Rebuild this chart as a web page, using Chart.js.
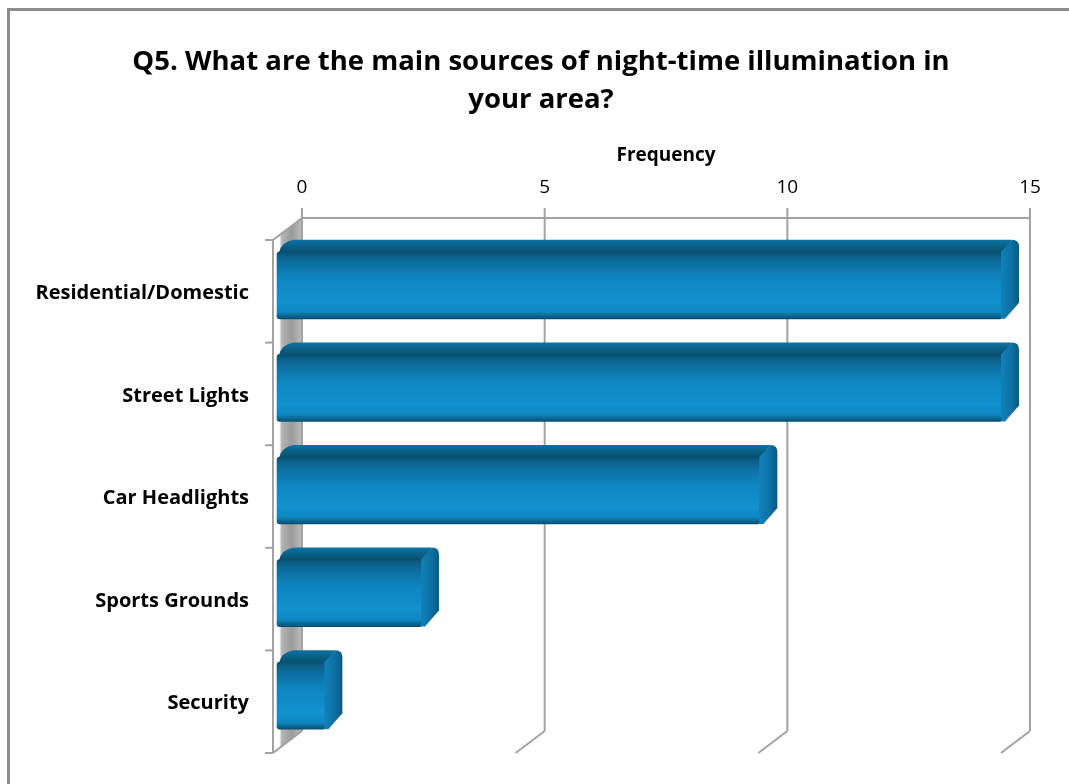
<!DOCTYPE html>
<html>
<head>
<meta charset="utf-8">
<title>Q5 night-time illumination</title>
<script src="https://cdn.jsdelivr.net/npm/chart.js@4/dist/chart.umd.min.js"></script>
<style>
  html, body { margin: 0; padding: 0; background: #ffffff; overflow: hidden; }
  #wrap { position: relative; width: 1069px; height: 784px; }
  #wrap canvas { position: absolute; left: 0; top: 0; }
  #frame {
    position: absolute; left: 7px; top: 8px; width: 1120px; height: 840px;
    border: 3px solid #8c8c8c; box-sizing: border-box; pointer-events: none;
  }
</style>
</head>
<body>
<div id="wrap">
  <canvas id="chart" width="1069" height="784"></canvas>
  <div id="frame"></div>
</div>
<script>
// ---- data ----
const categories = ['Residential/Domestic', 'Street Lights', 'Car Headlights', 'Sports Grounds', 'Security'];
const frequencies = [15, 15, 10, 3, 1];
const frequencyTicks = [0, 5, 10, 15];
const titleLines = ['Q5. What are the main sources of night-time illumination in', 'your area?'];
const axisTitle = 'Frequency';

// ---- look of the 3-D box ----
const FONT = '"Open Sans", Lato, "DejaVu Sans", sans-serif';
const GRID = '#a2a2a2';
const WALL_DX = 29;      // back wall -> front edge, horizontal shift
const WALL_DY = 22;      // back wall -> front edge, vertical shift
const FRONT_DROP = 6;    // front edge of the floor sits a little below the bar bands
const BAR_DX = 17;       // bar depth, horizontal
const BAR_DY = 12;       // bar depth, vertical
const BAR_FACE = 67;     // bar front face thickness
const BAR_MIN = 0.517;   // bar scale is the front plane of the box
const BAR_MAX = 15.579;

function strokeLine(ctx, x1, y1, x2, y2) {
  ctx.beginPath();
  ctx.moveTo(x1, y1);
  ctx.lineTo(x2, y2);
  ctx.stroke();
}

// walls, gridlines and the front category axis of the 3-D box
const box3d = {
  id: 'box3d',
  beforeDatasetsDraw(chart) {
    const { ctx, chartArea: a, scales } = chart;
    const xs = scales.x;
    const frontTop = a.top + FRONT_DROP;
    const frontBottom = a.bottom + FRONT_DROP;
    const backTop = frontTop - WALL_DY;
    const backBottom = frontBottom - WALL_DY;
    const x0 = xs.getPixelForValue(frequencyTicks[0]);
    const xEnd = xs.getPixelForValue(frequencyTicks[frequencyTicks.length - 1]);
    const frontX = x0 - WALL_DX;

    ctx.save();
    // side wall
    const g = ctx.createLinearGradient(frontX, 0, x0, 0);
    g.addColorStop(0, '#ffffff');
    g.addColorStop(0.22, '#ffffff');
    g.addColorStop(0.3, '#b4b4b4');
    g.addColorStop(0.65, '#9b9b9b');
    g.addColorStop(1, '#bcbcbc');
    ctx.fillStyle = g;
    ctx.beginPath();
    ctx.moveTo(frontX, frontTop);
    ctx.lineTo(x0, backTop);
    ctx.lineTo(x0, backBottom);
    ctx.lineTo(frontX, frontBottom);
    ctx.closePath();
    ctx.fill();

    ctx.strokeStyle = GRID;
    ctx.lineWidth = 2;
    ctx.lineCap = 'butt';
    // top edge of the back wall
    strokeLine(ctx, x0, backTop, xEnd, backTop);
    // value gridlines on the back wall and across the floor
    frequencyTicks.forEach(v => {
      const px = xs.getPixelForValue(v);
      strokeLine(ctx, px, backTop - 10, px, backBottom);
      strokeLine(ctx, px, backBottom, px - WALL_DX, backBottom + WALL_DY);
    });
    // front category axis
    strokeLine(ctx, frontX, frontTop, frontX, frontBottom);
    strokeLine(ctx, frontX, frontTop, x0, backTop);
    const n = categories.length;
    for (let i = 0; i <= n; i++) {
      const y = frontTop + (frontBottom - frontTop) * i / n;
      strokeLine(ctx, frontX - 8, y, frontX, y);
    }
    ctx.restore();
  },
  afterDatasetsDraw(chart) {
    const { ctx } = chart;
    const meta = chart.getDatasetMeta(0);
    ctx.save();
    meta.data.forEach(bar => {
      const { x, y, base, height } = bar.getProps(['x', 'y', 'base', 'height'], true);
      const top = y - height / 2;
      const bot = y + height / 2;
      // top face
      const gt = ctx.createLinearGradient(0, top - BAR_DY, 0, top);
      gt.addColorStop(0, '#0e72a3');
      gt.addColorStop(1, '#08506f');
      ctx.fillStyle = gt;
      ctx.beginPath();
      ctx.moveTo(base + 2, top + 1);
      ctx.quadraticCurveTo(base + 4, top - BAR_DY + 2, base + BAR_DX, top - BAR_DY);
      ctx.lineTo(x + BAR_DX - 7, top - BAR_DY);
      ctx.lineTo(x, top + 1);
      ctx.closePath();
      ctx.fill();
      // end face
      const gs = ctx.createLinearGradient(x, 0, x + BAR_DX, 0);
      gs.addColorStop(0, '#0f80b8');
      gs.addColorStop(0.55, '#0d70a2');
      gs.addColorStop(1, '#0a5a82');
      ctx.fillStyle = gs;
      ctx.beginPath();
      ctx.moveTo(x - 1, top);
      ctx.lineTo(x + BAR_DX - 7, top - BAR_DY);
      ctx.quadraticCurveTo(x + BAR_DX, top - BAR_DY, x + BAR_DX, top - BAR_DY + 7);
      ctx.lineTo(x + BAR_DX, bot - BAR_DY - 4);
      ctx.lineTo(x + 3, bot);
      ctx.lineTo(x - 1, bot);
      ctx.closePath();
      ctx.fill();
    });
    ctx.restore();
  }
};

// vertical shading of each bar's front face
function faceGradient(context) {
  const chart = context.chart;
  const ys = chart.scales && chart.scales.y;
  const fallback = '#0f86c0';
  if (!ys || context.dataIndex === undefined) return fallback;
  const cy = ys.getPixelForValue(context.dataIndex);
  if (!Number.isFinite(cy)) return fallback;
  const g = chart.ctx.createLinearGradient(0, cy - BAR_FACE / 2, 0, cy + BAR_FACE / 2);
  g.addColorStop(0, '#08506f');
  g.addColorStop(0.06, '#0b5f88');
  g.addColorStop(0.2, '#0d72a4');
  g.addColorStop(0.4, '#0f85bf');
  g.addColorStop(0.75, '#1192cf');
  g.addColorStop(0.9, '#0f86c0');
  g.addColorStop(0.95, '#0b6a98');
  g.addColorStop(1, '#084f70');
  return g;
}

new Chart(document.getElementById('chart'), {
  type: 'bar',
  data: {
    labels: categories,
    datasets: [{
      label: axisTitle,
      data: frequencies,
      xAxisID: 'xBar',
      yAxisID: 'y',
      backgroundColor: faceGradient,
      borderWidth: 0,
      borderRadius: 3,
      borderSkipped: false,
      barThickness: BAR_FACE,
      clip: false
    }]
  },
  options: {
    indexAxis: 'y',
    responsive: false,
    animation: false,
    events: [],
    layout: { padding: { left: 20, right: 7, top: 0, bottom: 37 } },
    plugins: {
      legend: { display: false },
      tooltip: { enabled: false },
      title: {
        display: true,
        text: titleLines,
        color: '#000000',
        font: { family: FONT, size: 27.5, weight: 'bold', lineHeight: 1.382 },
        padding: { top: 43, bottom: 0 }
      }
    },
    scales: {
      x: {
        type: 'linear',
        position: 'top',
        min: frequencyTicks[0],
        max: frequencyTicks[frequencyTicks.length - 1],
        afterBuildTicks: s => { s.ticks = frequencyTicks.map(v => ({ value: v })); },
        afterFit: s => { s.height = 115; s.paddingLeft = 0; s.paddingRight = 0; },
        grid: { display: false, drawTicks: false },
        border: { display: false },
        ticks: {
          color: '#000000',
          padding: 35,
          font: { family: FONT, size: 19 },
          maxRotation: 0
        },
        title: {
          display: true,
          text: axisTitle,
          color: '#000000',
          font: { family: FONT, size: 19, weight: 'bold' },
          padding: { top: 25, bottom: 0 }
        }
      },
      xBar: {
        type: 'linear',
        display: false,
        min: BAR_MIN,
        max: BAR_MAX
      },
      y: {
        type: 'category',
        position: 'left',
        afterFit: s => { s.width = 282; s.paddingTop = 0; s.paddingBottom = 0; },
        grid: { display: false, drawTicks: false },
        border: { display: false },
        ticks: {
          color: '#000000',
          padding: 53,
          labelOffset: 8,
          font: { family: FONT, size: 20, weight: 'bold' }
        }
      },
      // empty margin on the right of the plot
      yMargin: {
        type: 'category',
        position: 'right',
        afterFit: s => { s.width = 32; s.paddingTop = 0; s.paddingBottom = 0; },
        grid: { display: false, drawTicks: false },
        border: { display: false },
        ticks: { display: false }
      }
    }
  },
  plugins: [box3d]
});
</script>
</body>
</html>
